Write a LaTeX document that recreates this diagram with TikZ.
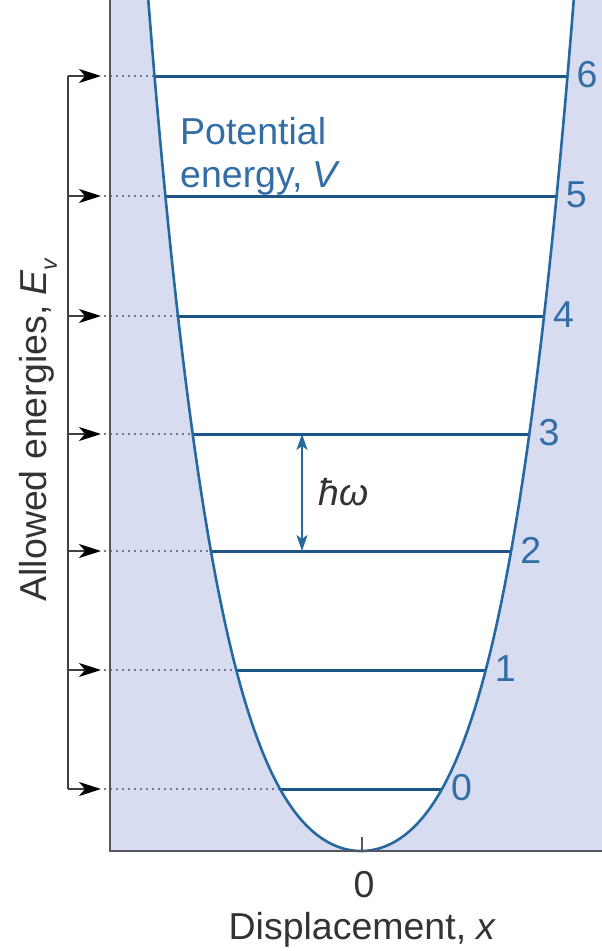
\documentclass[tikz,border=0pt]{standalone}
\usepackage{fontspec}
\setmainfont{Liberation Sans}
\usetikzlibrary{arrows.meta}
\definecolor{bgshade}{RGB}{216,220,240}
\definecolor{curveblue}{RGB}{38,105,160}
\definecolor{lvlblue}{RGB}{30,85,135}
\definecolor{txtblue}{RGB}{50,110,165}
\definecolor{axisgray}{RGB}{85,85,95}
\definecolor{dotgray}{RGB}{110,120,150}
\begin{document}
\begin{tikzpicture}[x=1pt,y=-1pt,
  every node/.style={font=\fontsize{37.5}{43}\selectfont, inner sep=0pt},
  lvl/.style={lvlblue, line width=3pt},
  curve/.style={curveblue, line width=2.6pt},
  axisline/.style={axisgray, line width=2.4pt},
  dots/.style={dotgray, line width=2.4pt, dash pattern=on 2.2pt off 3.8pt},
  brk/.style={black!75, line width=2pt},
  brkarrow/.style={brk, -{Stealth[length=22pt,width=14pt,inset=6pt,black]}},
  gaparrow/.style={curveblue, line width=2pt, {Stealth[length=16pt,width=11pt,inset=4pt]}-{Stealth[length=16pt,width=11pt,inset=4pt]}},
  numlbl/.style={txtblue, anchor=west}]
\useasboundingbox (0,0) rectangle (602,951);
% shaded background
\fill[bgshade] (110,0) rectangle (602,851);
% white interior of the well: h = 78.7 t^2 + 24.17 t^4, w = 100 t
\fill[white] plot[domain=-2.14:2.14, samples=120, smooth, variable=\t] ({361+100*\t},{851-78.7*\t*\t-24.17*\t*\t*\t*\t}) -- cycle;
% level coordinates
\foreach \i/\y/\w in {0/789/81,1/670/124.7,2/551/150.1,3/434/168.3,4/316/183,5/196/195.6,6/76/206.5}{
  \coordinate (L\i) at (361-\w,\y);
  \coordinate (R\i) at (361+\w,\y);
  \coordinate (K\i) at (68,\y);
  \coordinate (T\i) at (101,\y);
}
% dotted guides
\foreach \i in {0,...,6}{ \draw[dots] ([xshift=3pt]T\i) -- (L\i); }
% levels
\foreach \i in {0,...,6}{ \draw[lvl] (L\i) -- (R\i); }
% potential curve
\draw[curve] plot[domain=-2.14:2.14, samples=120, smooth, variable=\t] ({361+100*\t},{851-78.7*\t*\t-24.17*\t*\t*\t*\t});
% axes
\coordinate (axtop) at (110,0);
\coordinate (axorig) at (110,851);
\coordinate (axright) at (602,851);
\draw[axisline] (axtop) -- (axorig) -- (axright);
\coordinate (tickb) at (362,851);
\coordinate (tickt) at (362,837);
\draw[axisgray, line width=2pt] (tickb) -- (tickt);
% bracket with arrows
\draw[brk] (K6) -- (K0);
\foreach \i in {0,...,6}{ \draw[brkarrow] (K\i) -- (T\i); }
% level numbers
\foreach \i in {0,...,6}{ \node[numlbl] (n\i) at ([xshift=9pt,yshift=1pt]R\i) {\i}; }
% hbar omega spacing
\coordinate (g3) at (302,434);
\coordinate (g2) at (302,551);
\draw[gaparrow] (g3) -- (g2);
\node[anchor=west, black!80] (hw) at (318,492) {\itshape ħω};
% labels
\node[txtblue, anchor=north west, align=left] (pot) at (180,117) {Potential\\energy, \itshape V};
\node[rotate=90, black!80] (ylab) at (38,430) {Allowed energies, \itshape E\raisebox{-0.28em}{\fontsize{23}{23}\selectfont v}};
\node[black!80] (zero) at (364,885) {0};
\node[black!80] (xlab) at (362,930) {Displacement, \itshape x};
\end{tikzpicture}
\end{document}
